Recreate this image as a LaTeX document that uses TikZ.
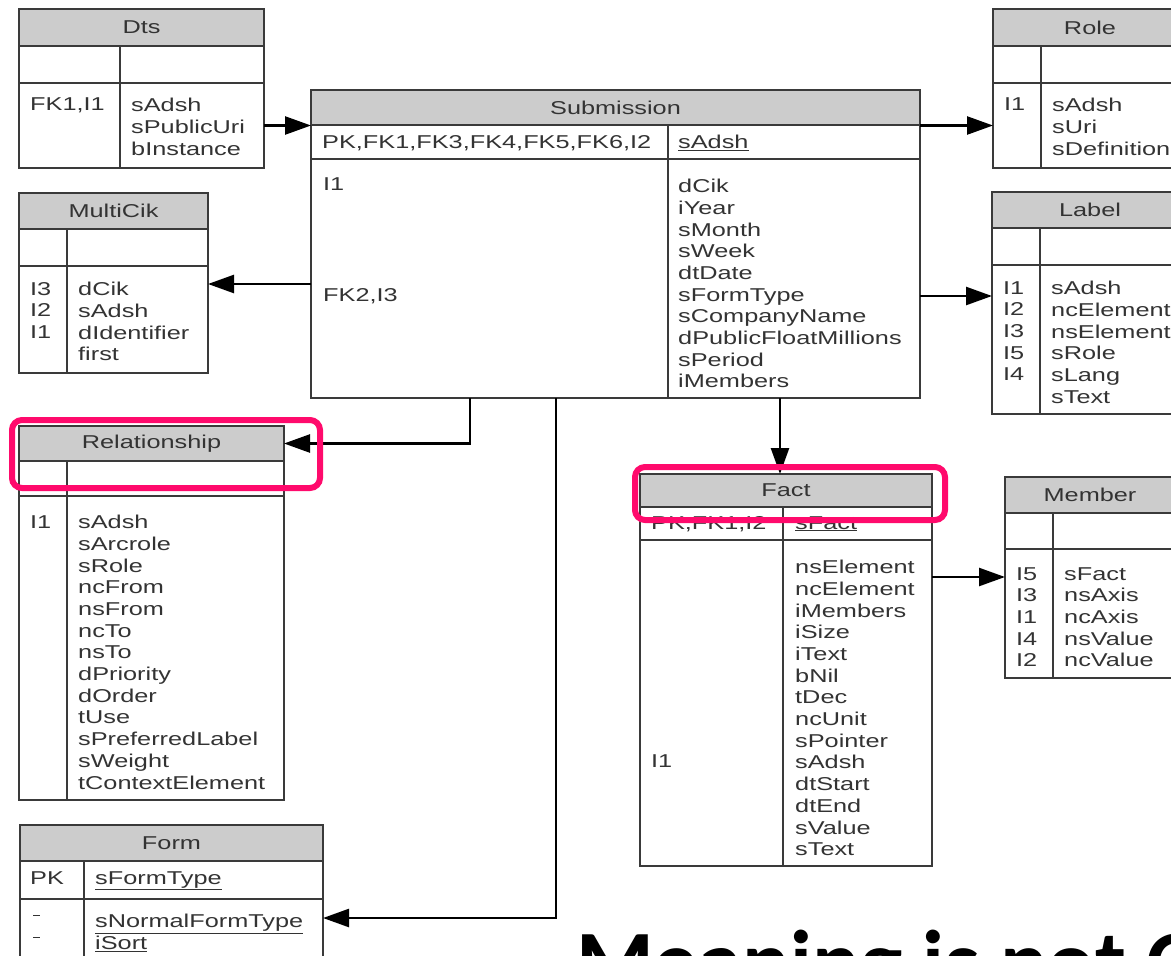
\documentclass[tikz,border=0pt]{standalone}
\usepackage{fontspec}
\setmainfont{Liberation Sans}[FakeStretch=1.36]
\newfontfamily\titlefont{Carlito}[BoldFont=* Bold]
\usetikzlibrary{arrows.meta}

\definecolor{hdrgray}{HTML}{CCCCCC}
\definecolor{linegray}{HTML}{3A3A3A}
\definecolor{txtgray}{HTML}{333333}
\definecolor{hotpink}{HTML}{FF0A6C}

\tikzset{
    hdr/.style={draw=linegray, fill=hdrgray, line width=1.3pt, anchor=north west, inner sep=0pt, outer sep=0pt, text=txtgray},
    cell/.style={draw=linegray, line width=1.3pt, anchor=north west, inner sep=0pt, outer sep=0pt},
    cellsize/.style 2 args={minimum width=#1, minimum height=#2},
    fld/.style={anchor=north west, inner sep=0pt, align=left, text=txtgray},
    conn/.style={line width=2.5pt, -{Triangle[length=26pt,width=18pt]}},
    hilite/.style={draw=hotpink, line width=6pt, rounded corners=10pt},
}

\begin{document}
\begin{tikzpicture}[x=1pt, y=-1pt, font=\fontsize{18.6}{21.7}\selectfont]
    \useasboundingbox (0,0) rectangle (1171,956);
    \clip (0,0) rectangle (1171,956);

    % Dts
    \node[hdr, cellsize={245pt}{37pt}] (dtsH) at (19,9) {Dts};
    \node[cell, cellsize={101pt}{37pt}] (dtsKL) at (19,46) {};
    \node[cell, cellsize={144pt}{37pt}] (dtsKR) at (120,46) {};
    \node[cell, cellsize={101pt}{85pt}] (dtsBL) at (19,83) {};
    \node[cell, cellsize={144pt}{85pt}] (dtsBR) at (120,83) {};
    \node[fld] (dtsKeys) at (30,98) {FK1,I1};
    \node[fld] (dtsCols) at (131,98) {sAdsh\\sPublicUri\\bInstance};

    % Submission
    \node[hdr, cellsize={609pt}{35pt}] (subH) at (311,90) {Submission};
    \node[cell, cellsize={357pt}{34pt}] (subKL) at (311,125) {};
    \node[cell, cellsize={252pt}{34pt}] (subKR) at (668,125) {};
    \node[cell, cellsize={357pt}{239pt}] (subBL) at (311,159) {};
    \node[cell, cellsize={252pt}{239pt}] (subBR) at (668,159) {};
    \node[fld] (subPk) at (322,135) {PK,FK1,FK3,FK4,FK5,FK6,I2};
    \node[fld] (subPkCol) at (678,135) {\underline{sAdsh}};
    \node[fld] (subIdx1) at (323,178) {I1};
    \node[fld] (subIdx2) at (323,288) {FK2,I3};
    \node[fld] (subCols) at (678,179) {dCik\\iYear\\sMonth\\sWeek\\dtDate\\sFormType\\sCompanyName\\dPublicFloatMillions\\sPeriod\\iMembers};

    % Role
    \node[hdr, cellsize={194pt}{37pt}] (roleH) at (993,9) {Role};
    \node[cell, cellsize={48pt}{37pt}] (roleKL) at (993,46) {};
    \node[cell, cellsize={146pt}{37pt}] (roleKR) at (1041,46) {};
    \node[cell, cellsize={48pt}{85pt}] (roleBL) at (993,83) {};
    \node[cell, cellsize={146pt}{85pt}] (roleBR) at (1041,83) {};
    \node[fld] (roleKeys) at (1004,98) {I1};
    \node[fld] (roleCols) at (1052,98) {sAdsh\\sUri\\sDefinition};

    % Label
    \node[hdr, cellsize={196pt}{36pt}] (lblH) at (992,192) {Label};
    \node[cell, cellsize={48pt}{37pt}] (lblKL) at (992,228) {};
    \node[cell, cellsize={148pt}{37pt}] (lblKR) at (1040,228) {};
    \node[cell, cellsize={48pt}{149pt}] (lblBL) at (992,265) {};
    \node[cell, cellsize={148pt}{149pt}] (lblBR) at (1040,265) {};
    \node[fld] (lblKeys) at (1003,281) {I1\\I2\\I3\\I5\\I4};
    \node[fld] (lblCols) at (1051,281) {sAdsh\\ncElement\\nsElement\\sRole\\sLang\\sText};

    % MultiCik
    \node[hdr, cellsize={189pt}{36pt}] (mcH) at (19,193) {MultiCik};
    \node[cell, cellsize={48pt}{37pt}] (mcKL) at (19,229) {};
    \node[cell, cellsize={141pt}{37pt}] (mcKR) at (67,229) {};
    \node[cell, cellsize={48pt}{107pt}] (mcBL) at (19,266) {};
    \node[cell, cellsize={141pt}{107pt}] (mcBR) at (67,266) {};
    \node[fld] (mcKeys) at (30,282) {I3\\I2\\I1};
    \node[fld] (mcCols) at (78,282) {dCik\\sAdsh\\dIdentifier\\first};

    % Relationship
    \node[hdr, cellsize={265pt}{35pt}] (relH) at (19,426) {Relationship};
    \node[cell, cellsize={48pt}{35pt}] (relKL) at (19,461) {};
    \node[cell, cellsize={217pt}{35pt}] (relKR) at (67,461) {};
    \node[cell, cellsize={48pt}{304pt}] (relBL) at (19,496) {};
    \node[cell, cellsize={217pt}{304pt}] (relBR) at (67,496) {};
    \node[fld] (relKeys) at (30,515) {I1};
    \node[fld] (relCols) at (78,515) {sAdsh\\sArcrole\\sRole\\ncFrom\\nsFrom\\ncTo\\nsTo\\dPriority\\dOrder\\tUse\\sPreferredLabel\\sWeight\\tContextElement};

    % Form
    \node[hdr, cellsize={303pt}{36pt}] (formH) at (20,825) {Form};
    \node[cell, cellsize={64pt}{38pt}] (formKL) at (20,861) {};
    \node[cell, cellsize={239pt}{38pt}] (formKR) at (84,861) {};
    \node[cell, cellsize={64pt}{100pt}] (formBL) at (20,899) {};
    \node[cell, cellsize={239pt}{100pt}] (formBR) at (84,899) {};
    \node[fld] (formPk) at (30,871) {PK};
    \node[fld] (formPkCol) at (95,871) {\underline{sFormType}};
    \node[fld] (formKeys) at (33,914) {\underline{\ }\\\underline{\ }};
    \node[fld] (formCols) at (95,914) {\underline{sNormalFormType}\\\underline{iSort}};

    % Fact
    \node[hdr, cellsize={292pt}{33pt}] (factH) at (640,474) {Fact};
    \node[cell, cellsize={143pt}{33pt}] (factKL) at (640,507) {};
    \node[cell, cellsize={149pt}{33pt}] (factKR) at (783,507) {};
    \node[cell, cellsize={143pt}{326pt}] (factBL) at (640,540) {};
    \node[cell, cellsize={149pt}{326pt}] (factBR) at (783,540) {};
    \node[fld] (factPk) at (651,516) {PK,FK1,I2};
    \node[fld] (factPkCol) at (795,516) {\underline{sFact}};
    \node[fld] (factIdx) at (651,754) {I1};
    \node[fld] (factCols) at (795,560) {nsElement\\ncElement\\iMembers\\iSize\\iText\\bNil\\tDec\\ncUnit\\sPointer\\sAdsh\\dtStart\\dtEnd\\sValue\\sText};

    % Member
    \node[hdr, cellsize={170pt}{36pt}] (memH) at (1005,477) {Member};
    \node[cell, cellsize={48pt}{36pt}] (memKL) at (1005,513) {};
    \node[cell, cellsize={122pt}{36pt}] (memKR) at (1053,513) {};
    \node[cell, cellsize={48pt}{129pt}] (memBL) at (1005,549) {};
    \node[cell, cellsize={122pt}{129pt}] (memBR) at (1053,549) {};
    \node[fld] (memKeys) at (1016,567) {I5\\I3\\I1\\I4\\I2};
    \node[fld] (memCols) at (1064,567) {sFact\\nsAxis\\ncAxis\\nsValue\\ncValue};

    % links
    \draw[conn] (dtsBR.east) -- (dtsBR.east -| subKL.west);
    \draw[conn] (roleBL.west -| subKR.east) -- (roleBL.west);
    \draw[conn] ([yshift=-18pt]mcBR.north east -| subBL.west) -- ([yshift=-18pt]mcBR.north east);
    \draw[conn] ([yshift=-31pt]lblBL.north west -| subBR.east) -- ([yshift=-31pt]lblBL.north west);
    \draw[conn] ([xshift=159pt]subBL.south west) |- (relH.east);
    \draw[conn] ([xshift=245pt]subBL.south west) |- ([yshift=-19pt]formBR.north east);
    \draw[conn] ([xshift=112pt]subBR.south west) -- ([xshift=112pt]subBR.south west |- factH.north);
    \draw[conn] ([yshift=-28pt]memBL.north west -| factBR.east) -- ([yshift=-28pt]memBL.north west);

    % highlights
    \draw[hilite] (12,420) rectangle (320,488);
    \draw[hilite] (635,467) rectangle (945,520);

    \node[anchor=base west, inner sep=0pt, font=\titlefont\bfseries\fontsize{89}{100}\selectfont] (meaning) at (576,992) {Meaning is not O};
\end{tikzpicture}
\end{document}
